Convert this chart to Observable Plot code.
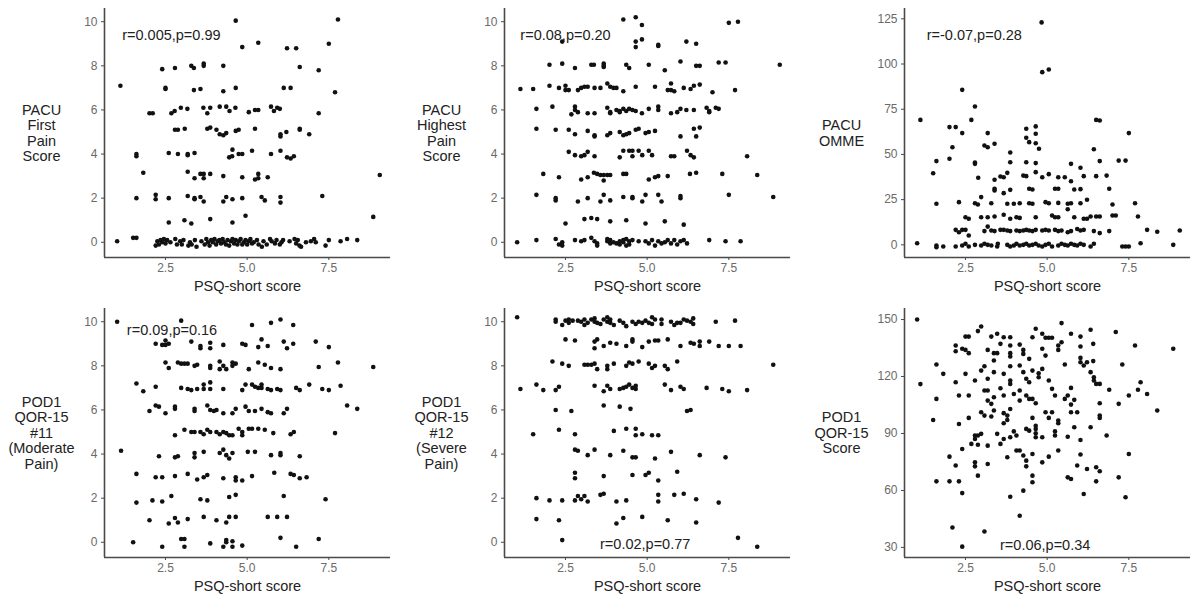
<!DOCTYPE html>
<html>
<head>
<meta charset="utf-8">
<script src="https://cdn.jsdelivr.net/npm/d3@7"></script>
<script src="https://cdn.jsdelivr.net/npm/@observablehq/plot@0.6"></script>
<style>
  html, body { margin: 0; padding: 0; background: #fff; }
  #wrap { position: relative; width: 1200px; height: 600px; background: #fff; font-family: "Liberation Sans", Arial, sans-serif; }
  .cell { position: absolute; width: 400px; height: 300px; }
</style>
</head>
<body>
<div id="wrap"></div>
<script>
// ---------- data ----------
const psqTicks = [2.5, 5.0, 7.5];
const painTicks = [0, 2, 4, 6, 8, 10];
const ommeTicks = [0, 25, 50, 75, 100, 125];
const qorTicks = [30, 60, 90, 120, 150];
const xLabel = "PSQ-short score";

const panelLabels = [
  "PACU\nFirst\nPain\nScore",
  "PACU\nHighest\nPain\nScore",
  "PACU\nOMME",
  "POD1\nQOR-15\n#11\n(Moderate\nPain)",
  "POD1\nQOR-15\n#12\n(Severe\nPain)",
  "POD1\nQOR-15\nScore"
];
const statLabels = ["r=0.005,p=0.99", "r=0.08,p=0.20", "r=-0.07,p=0.28", "r=0.09,p=0.16", "r=0.02,p=0.77", "r=0.06,p=0.34"];
const statX = [2.68, 2.5, 2.77, 2.7, 4.94, 4.94];
const statY = [9.4, 9.36, 115.8, 9.62, -0.08, 30.9];

const pacuFirst = [
  [1.02,0.05],[1.12,7.1],[1.51,0.2],[1.61,0.2],[1.61,4.0],[1.61,3.9],[1.61,2.0],[1.82,3.15],[2.01,5.85],[2.11,5.85],
  [2.2,2.15],[2.2,1.95],[2.4,7.85],[2.5,7.0],[2.5,6.95],[2.6,4.05],[2.6,2.0],[2.6,0.9],[2.68,5.85],[2.78,5.95],
  [2.79,7.9],[2.79,5.1],[2.88,5.1],[2.88,4.0],[2.97,6.1],[3.08,1.0],[3.09,5.15],[3.17,6.05],[3.18,4.0],[3.18,3.95],
  [3.18,3.2],[3.18,2.1],[3.29,8.0],[3.29,0.85],[3.37,7.9],[3.37,6.9],[3.39,4.05],[3.39,2.9],[3.39,2.0],[3.39,1.95],
  [3.57,6.95],[3.57,3.1],[3.57,2.05],[3.66,6.1],[3.67,8.1],[3.67,8.0],[3.67,3.1],[3.67,2.9],[3.67,1.85],[3.78,5.85],
  [3.78,5.15],[3.87,6.1],[3.87,5.2],[3.87,3.1],[3.87,1.05],[4.06,5.1],[4.16,6.15],[4.16,4.9],[4.27,8.0],[4.27,6.85],
  [4.27,4.85],[4.27,3.0],[4.27,1.85],[4.36,6.15],[4.36,4.95],[4.36,2.05],[4.45,3.85],[4.46,5.95],[4.54,3.9],[4.55,4.2],
  [4.55,1.95],[4.55,0.9],[4.64,6.1],[4.65,10.05],[4.65,7.0],[4.65,5.05],[4.74,5.1],[4.74,4.0],[4.85,8.85],[4.85,4.0],
  [4.85,2.95],[4.85,2.0],[4.95,1.2],[5.05,5.9],[5.15,4.15],[5.24,6.0],[5.24,5.15],[5.24,2.85],[5.34,9.05],[5.34,6.0],
  [5.34,3.1],[5.34,2.9],[5.44,2.05],[5.54,1.9],[5.63,2.95],[5.73,6.15],[5.73,4.0],[5.82,5.95],[5.92,6.1],[6.0,6.05],
  [6.02,4.8],[6.02,4.9],[6.02,4.15],[6.02,2.05],[6.02,1.8],[6.12,7.0],[6.2,5.0],[6.22,8.8],[6.22,3.85],[6.33,7.0],
  [6.33,3.8],[6.43,3.9],[6.5,8.8],[6.61,7.95],[6.61,5.15],[6.61,5.1],[6.9,4.9],[7.19,7.8],[7.19,5.85],[7.3,2.1],
  [7.5,9.0],[7.69,6.8],[7.78,10.1],[8.86,1.15],[9.06,3.05],
  [2.2,-0.15],[2.25,0.05],[2.3,-0.1],[2.35,0.1],[2.4,0.0],[2.45,0.15],[2.5,-0.05],[2.55,0.1],[2.65,0.0],[2.8,0.15],
  [2.85,-0.1],[2.95,0.05],[3.0,-0.1],[3.05,0.1],[3.2,-0.15],[3.25,0.0],[3.3,-0.1],[3.4,0.1],[3.45,-0.2],[3.6,0.05],
  [3.7,-0.1],[3.75,0.15],[3.8,0.0],[3.85,-0.15],[3.9,0.1],[3.95,0.0],[4.0,0.15],[4.05,-0.1],[4.1,0.05],[4.15,0.1],
  [4.2,-0.05],[4.25,0.15],[4.3,0.0],[4.35,-0.1],[4.4,0.1],[4.45,-0.15],[4.5,0.05],[4.55,0.15],[4.6,-0.05],[4.65,0.1],
  [4.7,-0.1],[4.75,0.05],[4.8,0.15],[4.85,-0.1],[4.9,0.0],[4.95,0.1],[5.0,-0.1],[5.05,0.05],[5.1,0.15],[5.15,-0.05],
  [5.2,0.0],[5.3,0.1],[5.35,-0.1],[5.45,-0.2],[5.5,0.05],[5.6,-0.1],[5.7,0.15],[5.75,0.05],[5.85,-0.05],[5.9,0.1],
  [6.0,-0.1],[6.05,0.0],[6.1,0.1],[6.3,0.05],[6.45,0.15],[6.5,-0.05],[6.55,0.1],[6.6,-0.15],[6.65,-0.2],[6.8,0.0],
  [6.95,0.05],[7.05,0.15],[7.1,0.0],[7.4,-0.15],[7.5,0.1],[7.86,0.05],[8.06,0.15],[8.37,0.1]
];

const pacuHighest = [
  [4.27,10.1],[4.65,10.2],[4.84,9.85],[7.5,9.95],[7.78,10.0],
  [2.4,9.1],[4.65,9.1],[4.65,8.85],[4.84,9.2],[5.34,8.9],[5.34,8.95],[6.2,9.1],[6.5,9.0],
  [2.01,8.05],[2.4,8.1],[2.79,7.9],[3.29,8.05],[3.37,8.05],[3.67,8.0],[3.67,8.1],[3.67,7.95],[4.36,8.05],[4.45,7.9],
  [5.05,8.05],[5.54,7.8],[6.02,8.2],[6.5,8.0],[6.61,8.0],[7.19,8.15],[7.4,8.15],[9.06,8.05],
  [1.12,6.95],[1.51,6.95],[2.01,7.1],[2.3,7.0],[2.5,7.1],[2.5,6.9],[2.6,6.9],[2.88,6.9],[2.98,7.0],[3.08,7.05],
  [3.18,7.05],[3.39,7.0],[3.57,7.0],[3.78,7.2],[3.87,7.05],[3.97,7.0],[4.06,7.0],[4.27,6.85],[4.65,7.05],[5.24,7.05],
  [5.63,6.9],[5.73,6.9],[5.73,7.2],[5.83,6.85],[6.12,7.0],[6.33,6.95],[6.43,7.1],[6.61,7.15],[7.0,6.8],[7.69,6.9],
  [1.61,6.05],[2.1,6.15],[2.68,5.8],[2.79,6.15],[2.79,6.0],[2.88,5.9],[3.18,5.85],[3.39,5.85],[3.78,6.1],[3.87,5.9],
  [3.87,5.85],[4.06,6.0],[4.16,5.95],[4.16,5.9],[4.27,6.05],[4.36,5.95],[4.45,6.05],[4.55,6.0],[4.65,5.95],[4.84,5.85],
  [5.05,6.05],[5.34,6.15],[5.34,6.0],[5.73,5.85],[5.92,5.9],[6.02,6.05],[6.2,6.0],[6.43,6.0],[6.82,6.1],[6.9,5.95],
  [6.9,5.9],[7.1,6.1],[7.19,6.05],
  [1.61,5.15],[2.2,5.1],[2.6,5.1],[2.79,4.9],[3.18,5.05],[3.39,4.85],[3.39,4.8],[3.78,4.85],[3.87,4.95],[4.16,5.0],
  [4.27,4.85],[4.36,4.9],[4.45,4.95],[4.65,5.1],[4.74,5.15],[4.95,4.95],[5.05,5.0],[5.24,5.05],[6.02,4.8],[6.43,5.15],
  [6.5,4.8],[6.61,5.2],
  [2.6,4.1],[2.79,3.95],[2.98,3.9],[3.08,3.95],[3.18,4.1],[3.39,3.9],[4.16,3.85],[4.27,4.15],[4.45,4.15],[4.55,3.9],
  [4.55,4.15],[4.74,4.15],[4.85,3.95],[5.05,4.15],[5.15,3.95],[5.73,3.9],[5.83,3.9],[6.22,4.15],[6.33,3.95],[6.43,3.85],
  [8.06,3.9],
  [1.82,3.1],[2.3,2.95],[2.98,2.85],[3.18,2.95],[3.37,3.15],[3.47,3.1],[3.57,3.05],[3.67,3.05],[3.67,2.8],[3.78,3.05],
  [3.87,3.05],[4.27,3.1],[4.36,3.1],[5.05,2.85],[5.24,2.95],[5.34,3.0],[5.63,3.0],[6.31,3.1],[6.5,3.15],[7.3,3.1],
  [8.37,3.05],
  [1.61,2.15],[2.2,2.0],[2.2,1.9],[2.88,1.85],[3.18,2.0],[3.57,1.85],[3.67,2.15],[3.87,1.9],[4.27,2.05],[4.55,2.05],
  [4.55,2.0],[4.85,1.85],[4.95,2.15],[5.34,2.15],[5.44,1.85],[6.02,2.1],[6.02,2.0],[7.5,2.15],[8.86,2.05],
  [2.5,0.85],[3.08,1.05],[3.29,1.1],[3.47,1.05],[3.87,0.95],[4.36,1.0],[4.95,0.85],[5.54,0.95],[6.12,0.8],
  [1.02,0.0],[1.61,0.1],[2.2,0.15],[2.3,-0.1],[2.4,0.0],[2.4,-0.15],[2.79,0.1],[2.98,0.05],[3.08,0.1],[3.29,0.2],
  [3.39,0.05],[3.47,-0.15],[3.47,-0.05],[3.78,0.05],[3.78,0.15],[3.87,-0.05],[3.87,0.1],[3.97,0.0],[4.06,-0.05],[4.16,0.05],
  [4.16,-0.1],[4.27,0.0],[4.27,0.1],[4.36,-0.15],[4.36,0.15],[4.45,0.05],[4.45,-0.1],[4.55,0.1],[4.74,0.05],[4.95,0.05],
  [5.05,-0.05],[5.15,0.1],[5.24,-0.15],[5.34,0.05],[5.44,-0.05],[5.54,0.0],[5.63,0.1],[5.73,-0.05],[5.83,0.1],[5.92,-0.1],
  [6.02,0.05],[6.12,0.1],[6.22,-0.05],[6.9,0.1],[7.4,0.05],[7.86,0.05]
];

const pacuOmme = [
  [4.83,123],[4.85,95.5],[5.05,97],[2.4,85.7],[2.79,76.5],[1.12,69.1],[2.68,69.1],[6.5,69.1],[6.61,68.8],
  [2.01,65.1],[2.2,65.1],[4.65,65.5],[4.36,64.2],[2.4,61.8],[3.18,61.8],[4.65,61.4],[7.5,61.8],[4.36,59.2],
  [3.08,54.9],[3.18,54],[3.39,55.9],[4.45,56.8],[4.65,56.2],[2.1,54],[4.75,53.1],[6.43,52.9],[3.87,51.1],[2.01,47.6],
  [1.61,46.3],[2.79,45.5],[2.79,44.8],[3.87,45.7],[4.36,45.7],[4.65,45.2],[6.61,46.3],[7.19,46.6],[7.4,46.6],
  [5.73,44.8],[6.02,42.6],[1.51,39.6],[4.65,40.2],[5.05,39.1],[3.78,39.8],
  [3.57,37.8],[3.67,37.4],[4.27,38.3],[4.36,38.0],[4.85,37.4],[5.34,37.4],[5.54,37.4],[6.5,38],[6.82,38.3],[6.12,38],
  [2.89,37.1],[3.39,36],[5.73,35.2],
  [3.39,31],[3.39,30.1],[4.45,31],[4.55,30.6],[5.24,31],[5.34,31],[5.83,30.6],[6.02,30.8],[6.9,31],
  [3.67,28.6],[3.87,30.4],[2.98,26.4],[6.22,24.9],
  [2.3,23.6],[2.79,23],[2.88,22.3],[3.29,23],[3.78,22.7],[3.98,22.7],[4.16,23],[4.45,23],[4.55,22.7],[4.95,23.6],
  [5.05,23],[5.34,23.2],[5.63,22.7],[5.73,23],[6.02,23],[7.0,22.3],[7.69,23],[1.61,22.7],[5.63,19.7],
  [2.5,15.3],[2.6,14.4],[2.98,15.3],[3.18,15.3],[3.39,15.7],[3.67,16.6],[3.87,14.4],[4.06,15.3],[4.16,14.9],[4.65,15.3],
  [5.15,16.2],[5.24,15.3],[5.34,15.3],[5.83,15.3],[6.12,14.4],[6.22,14.4],[6.33,15.7],[6.5,15.7],[6.61,15.7],[7.0,16.2],
  [7.1,16.2],[7.78,15.7],[2.6,5.2],
  [2.2,8.3],[2.3,7.0],[2.4,8.3],[2.5,8.3],[3.08,7.6],[3.18,10.1],[3.29,7.9],[3.39,7.6],[3.57,8.3],[3.67,8.3],
  [3.78,7.9],[3.87,7.6],[4.06,7.9],[4.16,7.6],[4.27,7.9],[4.36,8.3],[4.45,7.9],[4.55,7.6],[4.65,8.3],[4.85,7.9],
  [4.95,8.3],[5.05,7.9],[5.24,8.3],[5.34,7.6],[5.44,7.9],[5.63,7.0],[5.73,7.6],[5.92,8.8],[6.02,7.9],[6.12,8.3],
  [6.43,7.6],[6.61,6.5],[6.9,7.6],[8.06,8.3],[8.37,7.2],[9.06,7.9],
  [1.02,0.9],[1.61,-0.4],[1.61,-1.3],[1.82,-0.9],[2.2,-0.9],[2.4,-0.4],[2.5,0.6],[2.6,-0.9],[2.79,0],[2.98,-0.4],
  [3.08,0.6],[3.18,0],[3.29,-0.4],[3.47,-0.9],[3.49,0.6],[3.78,0],[3.87,-0.9],[3.98,-0.4],[4.06,0.6],[4.16,-0.4],
  [4.27,0],[4.36,0.6],[4.45,-0.4],[4.55,0],[4.65,0.6],[4.74,-0.4],[4.85,-0.9],[4.95,0],[5.05,0.6],[5.15,-0.9],
  [5.34,-0.4],[5.44,0.6],[5.54,0],[5.63,-0.4],[5.73,0.6],[5.83,0],[5.92,-0.4],[6.02,0.6],[6.12,0],[6.33,-0.9],
  [6.43,0.6],[7.3,-0.9],[7.4,-0.9],[7.5,-0.9],[7.86,0.9],[8.86,0]
];

const qor11 = [
  [1.02,10.0],[2.98,10.05],[5.15,9.85],[5.73,9.95],[6.02,10.1],[6.41,9.85],
  [2.2,9.0],[2.5,9.15],[2.4,8.95],[2.5,8.95],[2.6,9.0],[3.29,9.1],[3.57,8.9],[3.57,8.8],[3.87,9.05],[3.87,8.8],
  [4.27,8.95],[4.85,9.0],[4.95,8.95],[5.34,8.85],[5.44,9.2],[5.63,8.9],[6.12,9.1],[6.22,8.8],[6.41,9.0],[7.1,9.1],[7.5,8.85],
  [2.5,8.15],[2.6,7.9],[2.88,8.15],[2.98,8.1],[3.08,8.1],[3.18,8.1],[3.39,8.0],[3.47,8.05],[3.87,8.0],[3.87,7.9],
  [4.16,8.2],[4.16,7.85],[4.27,8.0],[4.36,7.85],[4.55,8.15],[4.55,8.0],[4.65,8.1],[5.05,7.85],[5.34,8.15],[5.54,8.05],
  [5.73,7.9],[6.02,7.85],[7.19,7.95],[7.78,8.15],[8.86,7.95],
  [1.61,7.2],[1.82,6.85],[2.2,7.05],[2.98,7.0],[3.18,6.95],[3.29,6.9],[3.47,6.95],[3.67,7.15],[3.67,6.95],[3.87,7.25],
  [3.87,6.95],[4.27,6.95],[4.85,6.9],[4.95,7.15],[5.15,7.15],[5.24,7.05],[5.34,7.0],[5.44,7.15],[5.44,7.0],[5.63,6.95],
  [5.73,6.9],[5.92,6.95],[6.02,6.9],[6.5,7.0],[6.61,6.9],[6.9,7.15],[7.3,6.95],[7.5,6.9],[7.86,7.1],
  [2.01,5.95],[2.2,6.2],[2.3,6.15],[2.5,5.85],[2.79,6.15],[2.79,6.05],[3.39,6.05],[3.39,5.95],[3.78,6.2],[3.87,6.0],
  [3.98,5.95],[4.06,6.0],[4.27,5.85],[4.55,5.85],[4.65,6.05],[4.95,6.15],[5.05,5.95],[5.24,5.95],[5.44,6.05],[5.63,5.9],
  [5.73,5.85],[6.12,5.85],[6.22,6.05],[8.06,6.2],[8.37,6.05],
  [2.79,4.85],[3.08,5.1],[3.29,5.0],[3.39,5.0],[3.57,5.0],[3.67,4.9],[3.78,5.1],[3.87,5.0],[4.06,5.0],[4.16,4.9],
  [4.27,5.0],[4.36,4.95],[4.45,4.85],[4.55,4.85],[4.74,5.15],[4.85,5.0],[4.85,4.85],[5.05,5.15],[5.15,5.15],[5.34,5.15],
  [5.54,5.1],[5.8,4.95],[6.33,4.9],[6.43,5.0],[7.69,4.95],
  [1.14,4.15],[2.3,3.9],[2.79,3.85],[2.88,3.9],[3.39,4.05],[3.39,3.85],[3.67,4.1],[4.16,4.05],[4.27,4.2],[4.36,3.95],
  [4.45,3.8],[4.55,4.05],[5.02,4.1],[5.24,4.1],[5.73,3.95],[6.02,4.05],[6.02,3.95],[6.61,3.9],
  [1.61,3.1],[2.2,2.95],[2.4,2.95],[2.79,3.0],[3.18,3.1],[3.47,2.85],[3.67,2.95],[3.78,3.05],[4.27,2.9],[4.65,2.95],
  [4.65,2.8],[4.85,2.8],[5.15,3.0],[5.83,3.15],[6.33,3.1],[6.43,3.05],[6.61,2.9],[6.82,2.95],
  [1.61,1.8],[2.1,1.9],[2.4,1.85],[2.68,2.1],[3.57,1.95],[3.78,1.9],[4.45,2.05],[4.65,2.15],[6.12,2.1],[7.4,1.95],
  [2.01,1.0],[2.6,0.85],[2.79,1.1],[2.88,0.9],[3.18,1.05],[3.67,1.15],[4.06,1.0],[4.36,0.9],[4.45,1.15],[4.65,1.15],
  [5.63,1.15],[5.92,1.15],[6.22,1.15],
  [1.51,0.0],[2.4,-0.2],[2.98,0.15],[3.08,0.15],[3.08,-0.2],[3.87,-0.05],[4.27,-0.2],[4.36,0.1],[4.36,0.0],[4.55,0.05],
  [4.55,-0.2],[4.85,-0.15],[6.02,0.2],[6.5,-0.2],[7.19,0.15]
];

const qor12 = [
  [1.02,10.2],[2.2,10.1],[2.2,10.0],[2.4,9.85],[2.5,10.05],[2.6,10.1],[2.6,9.95],[2.72,10.05],[2.88,10.05],[2.98,10.0],
  [3.08,10.1],[3.08,9.85],[3.18,9.95],[3.29,10.1],[3.39,10.0],[3.39,10.15],[3.47,9.95],[3.57,9.9],[3.67,10.1],[3.78,10.0],
  [3.78,10.2],[3.87,10.1],[3.87,9.95],[3.98,9.85],[4.16,10.05],[4.27,9.95],[4.36,9.8],[4.55,10.0],[4.65,9.9],[4.74,10.0],
  [4.85,9.95],[4.95,10.05],[5.05,9.95],[5.15,10.2],[5.15,9.9],[5.24,10.1],[5.44,10.1],[5.44,9.9],[5.73,10.0],[5.83,9.85],
  [5.92,9.95],[6.02,9.95],[6.12,10.1],[6.22,10.05],[6.33,10.0],[6.41,10.15],[6.41,9.9],[7.1,10.0],[7.69,10.05],
  [2.5,9.2],[2.79,9.15],[3.39,9.1],[3.39,8.8],[3.47,9.2],[3.67,8.9],[3.87,9.05],[4.06,9.0],[4.36,8.9],[4.55,9.1],
  [4.55,9.2],[4.85,8.85],[5.05,9.1],[5.24,9.15],[5.34,9.15],[5.63,9.2],[6.02,8.9],[6.33,9.05],[6.43,9.0],[6.61,9.1],
  [6.61,8.9],[6.9,9.1],[7.19,8.9],[7.5,8.9],[7.86,8.9],
  [2.1,8.2],[2.4,8.1],[2.6,8.0],[3.08,8.05],[3.18,8.05],[3.29,8.05],[3.39,8.1],[3.47,7.85],[3.78,7.85],[3.78,8.0],
  [3.98,8.1],[4.36,8.0],[4.45,8.15],[4.55,8.1],[4.74,8.2],[5.05,8.1],[5.15,7.9],[5.24,8.0],[5.54,8.0],[5.63,7.85],
  [5.92,8.2],[8.86,8.05],
  [1.12,6.95],[1.61,7.15],[1.82,6.9],[2.2,6.9],[2.3,7.05],[3.39,7.1],[3.67,6.85],[3.78,7.1],[3.87,6.95],[4.16,6.95],
  [4.27,7.0],[4.36,7.05],[4.45,7.15],[4.55,7.0],[4.65,6.95],[4.65,7.1],[5.54,7.15],[5.73,6.9],[6.02,7.05],[6.12,6.95],
  [6.82,7.0],[7.3,6.95],[7.5,6.85],[8.06,6.9],
  [2.2,6.0],[2.68,5.95],[3.67,6.2],[4.16,6.15],[4.49,6.05],[6.22,5.95],[6.33,6.0],
  [1.51,4.9],[2.3,5.1],[2.79,4.9],[3.98,5.05],[4.36,5.15],[4.65,5.15],[4.65,4.85],[4.85,4.9],[5.15,4.85],[5.34,4.85],
  [2.79,4.2],[2.88,4.15],[3.18,3.95],[3.39,4.2],[3.87,3.95],[4.27,4.15],[4.55,3.85],[4.65,3.85],[5.24,3.8],[5.73,4.1],
  [6.61,3.95],[7.4,3.85],
  [2.79,3.15],[2.79,2.9],[3.67,3.0],[4.55,3.05],[4.95,3.05],[5.05,3.15],[5.34,2.8],[5.92,3.2],
  [1.61,2.0],[2.01,1.9],[2.4,1.9],[2.79,1.9],[2.88,2.1],[2.98,1.95],[3.08,2.1],[3.18,1.85],[3.57,2.15],[3.67,2.2],
  [4.06,1.85],[4.36,1.9],[5.34,2.15],[5.34,1.85],[5.83,2.15],[6.12,2.2],[6.5,1.95],[7.19,1.8],
  [1.61,1.05],[2.3,1.0],[4.06,0.85],[4.27,1.1],[4.85,1.15],[5.63,1.0],[6.5,0.9],
  [2.4,0.1],[7.78,0.2],[8.37,-0.2]
];

const qorScore = [
  [1.02,150],[1.12,116],[1.51,97.1],[1.61,126.3],[1.61,108.2],[1.61,64.8],[1.82,121.4],
  [2.01,77.8],[2.01,64.8],[2.1,40.5],[2.2,136.3],[2.2,133.3],[2.2,117],[2.2,73.1],[2.3,110],[2.3,95],[2.3,64.8],
  [2.4,134.6],[2.4,81.8],[2.4,58.6],[2.4,30.4],[2.5,141],[2.5,134],[2.5,121.4],[2.6,141],[2.6,132.3],[2.6,110],
  [2.6,98.2],[2.68,84.5],[2.79,117.9],[2.79,88.9],[2.79,87.1],[2.79,74.8],[2.79,72.7],[2.88,88.9],[2.88,84.1],[2.88,67.8],
  [2.88,143.9],[2.98,146.3],[2.98,123.1],[2.98,101.2],[2.98,89.8],[3.08,125.4],[3.08,99.4],[3.08,112.6],[3.08,38.4],
  [3.18,112.6],[3.18,134],[3.18,118.8],[3.18,107.3],[3.18,83.6],[3.18,73.9],[3.29,141],[3.29,105.6],[3.29,98.9],
  [3.37,132.3],[3.37,128.4],[3.37,122.3],[3.37,109.1],[3.37,102.1],[3.47,132.3],[3.47,142.5],[3.47,89.8],
  [3.57,137.2],[3.57,113.8],[3.57,84.5],[3.67,140.7],[3.67,121.4],[3.67,110],[3.67,100.7],[3.67,95.4],[3.67,87.1],
  [3.78,99.4],[3.78,97.1],[3.78,77.5],[3.87,140.7],[3.87,136.3],[3.87,132.3],[3.87,130.5],[3.87,125.4],[3.87,117.9],
  [3.87,116.1],[3.87,102.9],[3.87,88],[3.87,56.7],[3.98,110.8],[3.98,91.1],[4.06,81],[4.06,88.9],[4.16,46.7],
  [4.16,112.6],[4.16,81],[4.16,136.8],[4.16,125.8],[4.16,107.3],[4.27,134],[4.27,131.9],[4.27,122.3],[4.27,78.4],
  [4.27,59.9],[4.36,118.8],[4.36,110],[4.36,92.4],[4.36,75.7],[4.36,72.7],[4.45,129.3],[4.45,117],[4.45,91.5],
  [4.45,108.2],[4.55,140.7],[4.55,123.1],[4.55,108.2],[4.55,98.2],[4.55,79.2],[4.55,67.8],[4.55,64.3],[4.65,145.1],
  [4.65,105.9],[4.65,94.1],[4.65,92.4],[4.65,90.1],[4.65,88],[4.74,121.7],[4.74,119.6],[4.85,142.5],[4.85,134.6],
  [4.85,124],[4.85,88],[4.85,74.8],[4.95,140.4],[4.95,131],[4.95,101.2],[5.05,140.4],[5.05,117.9],[5.05,98.2],
  [5.05,77.8],[5.15,140.4],[5.15,113.5],[5.15,101.2],[5.24,110],[5.24,91.1],[5.24,88.9],[5.34,136.3],[5.34,134],
  [5.34,96.8],[5.34,95.4],[5.34,81],[5.44,138],[5.54,126.3],[5.54,108.2],[5.44,148.1],[5.63,110],[5.63,88.3],
  [5.63,66.9],[5.73,114],[5.73,105.2],[5.73,101.2],[5.73,66],[5.73,142.5],[5.83,107.7],[5.83,93.3],[5.92,101.2],
  [5.92,73.1],[6.02,141],[6.02,135.8],[6.02,129.8],[6.02,127.5],[6.02,86.6],[6.02,78.9],[6.12,125.8],[6.12,58.1],
  [6.22,127.5],[6.22,71.3],[6.33,144.6],[6.33,122.3],[6.33,93.3],[6.41,137.2],[6.41,128.1],[6.43,119.6],[6.43,117.9],
  [6.5,116.1],[6.5,72.2],[6.61,116.1],[6.61,105.9],[6.61,99.4],[6.61,98.2],[6.5,64.8],[6.61,70.1],[6.82,88.9],
  [6.9,113],[7.1,143.4],[7.19,105.6],[7.19,66.9],[7.3,126.3],[7.4,56.4],[7.5,110],[7.5,79.2],[7.69,136.3],
  [7.78,113],[7.86,117],[8.06,110.8],[8.37,102.1],[8.86,134.6]
];

const painDomain = [-0.69, 10.6];
const ommeDomain = [-7, 130.7];
const qorDomain = [24.7, 155.8];
const psqDomain = [0.633, 9.388];

// ---------- panels ----------
const panels = [
  {data: pacuFirst,   yTicks: painTicks, yDomain: painDomain},
  {data: pacuHighest, yTicks: painTicks, yDomain: painDomain},
  {data: pacuOmme,    yTicks: ommeTicks, yDomain: ommeDomain},
  {data: qor11,       yTicks: painTicks, yDomain: painDomain},
  {data: qor12,       yTicks: painTicks, yDomain: painDomain},
  {data: qorScore,    yTicks: qorTicks,  yDomain: qorDomain}
];

const wrap = document.getElementById("wrap");
const FONT = "'Liberation Sans', Arial, Helvetica, sans-serif";

panels.forEach((p, i) => {
  const cell = document.createElement("div");
  cell.className = "cell";
  cell.style.left = (i % 3) * 400 + "px";
  cell.style.top = Math.floor(i / 3) * 300 + "px";
  const chart = Plot.plot({
    width: 400,
    height: 300,
    marginLeft: 104,
    marginRight: 10,
    marginTop: 8,
    marginBottom: 43,
    style: {fontFamily: FONT, fontSize: "12px", color: "#5a5a5a", background: "white", overflow: "visible"},
    x: {domain: psqDomain},
    y: {domain: p.yDomain},
    marks: [
      Plot.ruleX([psqDomain[0]], {stroke: "#4a4a4a", strokeWidth: 1.6}),
      Plot.ruleY([p.yDomain[0]], {stroke: "#4a4a4a", strokeWidth: 1.6}),
      Plot.axisX({ticks: psqTicks, tickFormat: d3.format(".1f"), tickSize: 3, tickPadding: 3, label: null, fill: "#6a6a6a", stroke: "#4a4a4a"}),
      Plot.axisY({ticks: p.yTicks, tickSize: 3, tickPadding: 4, label: null, fill: "#6a6a6a", stroke: "#4a4a4a"}),
      Plot.dot(p.data, {x: d => d[0], y: d => d[1], r: 2.3, fill: "#111", stroke: "none"}),
      Plot.text([statLabels[i]], {x: statX[i], y: statY[i], text: d => d, fontSize: 14.5, fill: "#222", textAnchor: "middle"}),
      Plot.text([panelLabels[i]], {frameAnchor: "left", dx: -63, text: d => d, fontSize: 14.5, lineHeight: 1.07, fill: "#222", textAnchor: "middle", lineAnchor: "middle"}),
      Plot.text([xLabel], {frameAnchor: "bottom", dy: 29, text: d => d, fontSize: 14.5, fill: "#222", textAnchor: "middle", lineAnchor: "middle"})
    ]
  });
  cell.appendChild(chart);
  wrap.appendChild(cell);
});
</script>
</body>
</html>
